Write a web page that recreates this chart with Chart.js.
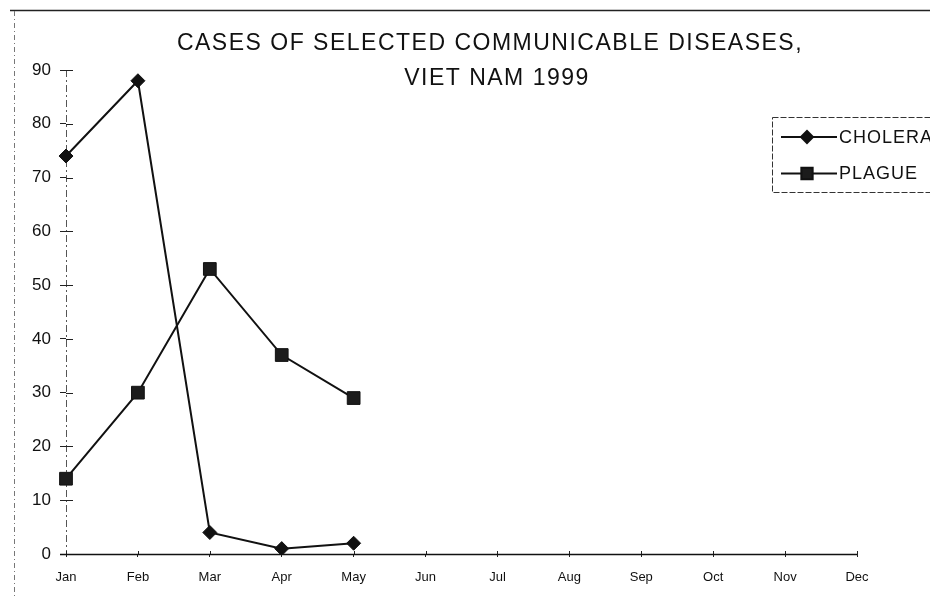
<!DOCTYPE html>
<html>
<head>
<meta charset="utf-8">
<script src="https://cdn.jsdelivr.net/npm/chart.js@4/dist/chart.umd.min.js"></script>
<style>
  html, body { margin: 0; padding: 0; background: #fff; }
  #wrap { width: 930px; height: 598px; position: relative; }
</style>
</head>
<body>
<div id="wrap"><canvas id="c" width="930" height="598"></canvas></div>
<script>
// Monthly case counts, 1999
const months = ['Jan', 'Feb', 'Mar', 'Apr', 'May', 'Jun', 'Jul', 'Aug', 'Sep', 'Oct', 'Nov', 'Dec'];
const cholera = [74, 88, 4, 1, 2];
const plague = [14, 30, 53, 37, 29];
const titleLines = ['CASES OF SELECTED COMMUNICABLE DISEASES,', 'VIET NAM 1999'];
const yMin = 0, yMax = 90, yStep = 10;

const FONT = '"Liberation Sans", Arial, sans-serif';

// Page frame, title, dashed value axis and the boxed legend
const framePlugin = {
  id: 'frame',
  beforeDraw(chart) {
    const ctx = chart.ctx;
    ctx.save();
    ctx.strokeStyle = '#222';
    ctx.lineWidth = 1.5;
    ctx.beginPath();
    ctx.moveTo(10, 10.5);
    ctx.lineTo(930, 10.5);
    ctx.stroke();
    ctx.strokeStyle = '#777';
    ctx.lineWidth = 1;
    ctx.setLineDash([5, 3, 1, 3]);
    ctx.beginPath();
    ctx.moveTo(14.5, 11);
    ctx.lineTo(14.5, 598);
    ctx.stroke();
    ctx.restore();
  },
  beforeDatasetsDraw(chart) {
    const ctx = chart.ctx;
    const a = chart.chartArea;
    const y = chart.scales.y;
    const x = chart.scales.x;
    ctx.save();
    // value axis line, dash-dot
    ctx.strokeStyle = '#555';
    ctx.lineWidth = 1;
    ctx.setLineDash([7, 3, 2, 3]);
    ctx.beginPath();
    ctx.moveTo(a.left + 0.5, a.top);
    ctx.lineTo(a.left + 0.5, a.bottom);
    ctx.stroke();
    ctx.setLineDash([]);
    // inner halves of the tick marks
    ctx.strokeStyle = '#222';
    y.ticks.forEach((t, i) => {
      const py = Math.round(y.getPixelForTick(i)) + 0.5;
      ctx.beginPath();
      ctx.moveTo(a.left, py);
      ctx.lineTo(a.left + 7, py);
      ctx.stroke();
    });
    x.ticks.forEach((t, i) => {
      const px = Math.round(x.getPixelForTick(i)) + 0.5;
      ctx.beginPath();
      ctx.moveTo(px, a.bottom);
      ctx.lineTo(px, a.bottom - 3);
      ctx.stroke();
    });
    // category axis line
    ctx.strokeStyle = '#111';
    ctx.lineWidth = 1.5;
    ctx.beginPath();
    ctx.moveTo(a.left - 6, a.bottom + 0.5);
    ctx.lineTo(a.right, a.bottom + 0.5);
    ctx.stroke();
    ctx.restore();
  },
  afterDraw(chart) {
    const ctx = chart.ctx;
    ctx.save();
    ctx.fillStyle = '#111';
    ctx.font = '23px ' + FONT;
    ctx.letterSpacing = '1.5px';
    ctx.textAlign = 'center';
    ctx.textBaseline = 'alphabetic';
    ctx.fillText(titleLines[0], 490, 50);
    ctx.fillText(titleLines[1], 497, 85);

    // legend box
    const bx = 772.5, by = 117.5, bw = 170, bh = 75;
    ctx.letterSpacing = '0px';
    ctx.strokeStyle = '#333';
    ctx.lineWidth = 1;
    ctx.setLineDash([6, 2]);
    ctx.strokeRect(bx, by, bw, bh);
    ctx.setLineDash([]);
    const rows = [137, 173.5];
    chart.data.datasets.forEach((ds, i) => {
      const ry = rows[i];
      ctx.strokeStyle = ds.borderColor;
      ctx.lineWidth = 2;
      ctx.beginPath();
      ctx.moveTo(781, ry);
      ctx.lineTo(837, ry);
      ctx.stroke();
      ctx.fillStyle = ds.backgroundColor;
      Chart.helpers.drawPoint(ctx, {
        pointStyle: ds.pointStyle,
        radius: ds.pointRadius - 1,
        rotation: 0,
        borderWidth: 1
      }, 807, ry);
      ctx.fillStyle = '#111';
      ctx.font = '18px ' + FONT;
      ctx.letterSpacing = '1px';
      ctx.textAlign = 'left';
      ctx.textBaseline = 'middle';
      ctx.fillText(ds.label, 839, ry + 1);
      ctx.letterSpacing = '0px';
    });
    ctx.restore();
  }
};

new Chart(document.getElementById('c'), {
  type: 'line',
  data: {
    labels: months,
    datasets: [
      {
        label: 'CHOLERA',
        data: cholera,
        borderColor: '#111',
        backgroundColor: '#111',
        borderWidth: 2,
        pointStyle: 'rectRot',
        pointRadius: 7,
        pointBorderWidth: 1,
        tension: 0
      },
      {
        label: 'PLAGUE',
        data: plague,
        borderColor: '#111',
        backgroundColor: '#1c1c1c',
        borderWidth: 2,
        pointStyle: 'rect',
        pointRadius: 9,
        pointBorderWidth: 1,
        tension: 0
      }
    ]
  },
  options: {
    responsive: false,
    animation: false,
    devicePixelRatio: 1,
    layout: { padding: { left: 0, right: 73, top: 70, bottom: 0 } },
    plugins: {
      legend: { display: false },
      title: { display: false },
      tooltip: { enabled: false }
    },
    scales: {
      x: {
        type: 'category',
        offset: false,
        grid: { display: true, drawOnChartArea: false, drawTicks: true, tickLength: 3, color: '#222' },
        border: { display: false },
        ticks: { color: '#111', font: { family: FONT, size: 13 }, padding: 13, maxRotation: 0, autoSkip: false },
        afterFit(s) { s.height = 44; }
      },
      y: {
        min: yMin,
        max: yMax,
        grid: { display: true, drawOnChartArea: false, drawTicks: true, tickLength: 6, color: '#222' },
        border: { display: false },
        ticks: { stepSize: yStep, color: '#111', font: { family: FONT, size: 17 }, padding: 9 },
        afterFit(s) { s.width = 66; }
      }
    }
  },
  plugins: [framePlugin]
});
</script>
</body>
</html>
